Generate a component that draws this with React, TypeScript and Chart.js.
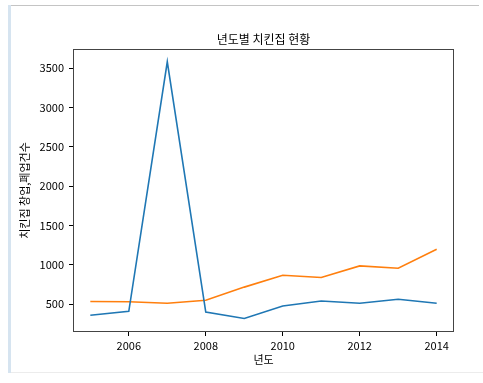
import React, { useEffect, useRef } from "react";
import { Chart, registerables } from "chart.js";

Chart.register(...registerables);

const years = [2005, 2006, 2007, 2008, 2009, 2010, 2011, 2012, 2013, 2014];
const openings = [360, 410, 3580, 400, 318, 478, 541, 512, 563, 512];
const closings = [534, 531, 512, 550, 717, 868, 839, 987, 957, 1199];
const xTicks = [2006, 2008, 2010, 2012, 2014];
const yTicks = [500, 1000, 1500, 2000, 2500, 3000, 3500];

const chartTitle = "년도별 치킨집 현황";
const xTitle = "년도";
const yTitle = "치킨집 창업,폐업건수";

const FONT = "'Noto Sans CJK KR', 'DejaVu Sans', sans-serif";

export default function App() {
  const ref = useRef<HTMLCanvasElement | null>(null);
  useEffect(() => {
    if (!ref.current) return;
    const textPlugin = {
      id: "texts",
      afterDraw(chart: any) {
        const { ctx, chartArea } = chart;
        const cx = (chartArea.left + chartArea.right) / 2;
        const cy = (chartArea.top + chartArea.bottom) / 2;
        ctx.save();
        ctx.strokeStyle = "#444";
        ctx.lineWidth = 1;
        ctx.strokeRect(chartArea.left + 0.5, chartArea.top + 0.5, chartArea.right - chartArea.left - 1, chartArea.bottom - chartArea.top - 1);
        ctx.fillStyle = "#000";
        ctx.textAlign = "center";
        ctx.textBaseline = "middle";
        ctx.font = `12px ${FONT}`;
        ctx.fillText(chartTitle, cx, 39);
        ctx.font = `11px ${FONT}`;
        ctx.fillText(xTitle, cx, 360);
        ctx.translate(25, cy);
        ctx.rotate(-Math.PI / 2);
        ctx.fillText(yTitle, 0, 0);
        ctx.restore();
      },
    };
    const chart = new Chart(ref.current, {
      type: "line",
      data: {
        datasets: [
          {
            label: "창업",
            data: years.map((y, i) => ({ x: y, y: openings[i] })),
            borderColor: "#1f77b4",
            borderWidth: 1.6,
            pointRadius: 0,
            tension: 0,
          },
          {
            label: "폐업",
            data: years.map((y, i) => ({ x: y, y: closings[i] })),
            borderColor: "#ff7f0e",
            borderWidth: 1.6,
            pointRadius: 0,
            tension: 0,
          },
        ],
      },
      options: {
        animation: false,
        responsive: false,
        devicePixelRatio: 1,
        layout: { padding: { left: 0, right: 29, top: 49, bottom: 0 } },
        plugins: { legend: { display: false }, title: { display: false }, tooltip: { enabled: false } },
        scales: {
          x: {
            type: "linear",
            min: 2004.55,
            max: 2014.45,
            afterBuildTicks: (s: any) => {
              s.ticks = xTicks.map((v) => ({ value: v }));
            },
            afterFit: (s: any) => {
              s.height = 51;
            },
            grid: { display: true, drawOnChartArea: false, drawTicks: true, tickLength: 4, tickColor: "#000" },
            border: { display: false },
            ticks: { color: "#000", font: { family: FONT, size: 11 }, padding: 3, maxRotation: 0, autoSkip: false, callback: (v: any) => String(v) },
          },
          y: {
            type: "linear",
            min: 146.5,
            max: 3743.5,
            afterBuildTicks: (s: any) => {
              s.ticks = yTicks.map((v) => ({ value: v }));
            },
            afterFit: (s: any) => {
              s.width = 73;
            },
            grid: { display: true, drawOnChartArea: false, drawTicks: true, tickLength: 4, tickColor: "#000" },
            border: { display: false },
            ticks: { color: "#000", font: { family: FONT, size: 11 }, padding: 5, autoSkip: false, callback: (v: any) => String(v) },
          },
        },
      },
      plugins: [textPlugin],
    });
    return () => chart.destroy();
  }, []);
  return (
    <div style={{ position: "fixed", left: 0, top: 0, width: 483, height: 383, background: "#fff" }}>
      <div style={{ position: "absolute", left: 8, top: 5, width: 3, height: 368, background: "#d6e4f0" }} />
      <div style={{ position: "absolute", left: 11, top: 5, width: 468, height: 1, background: "#c4c4c4" }} />
      <div style={{ position: "absolute", left: 11, top: 372, width: 472, height: 1, background: "#ececec" }} />
      <canvas ref={ref} width={483} height={383} style={{ position: "absolute", left: 0, top: 0, width: 483, height: 383 }} />
    </div>
  );
}
